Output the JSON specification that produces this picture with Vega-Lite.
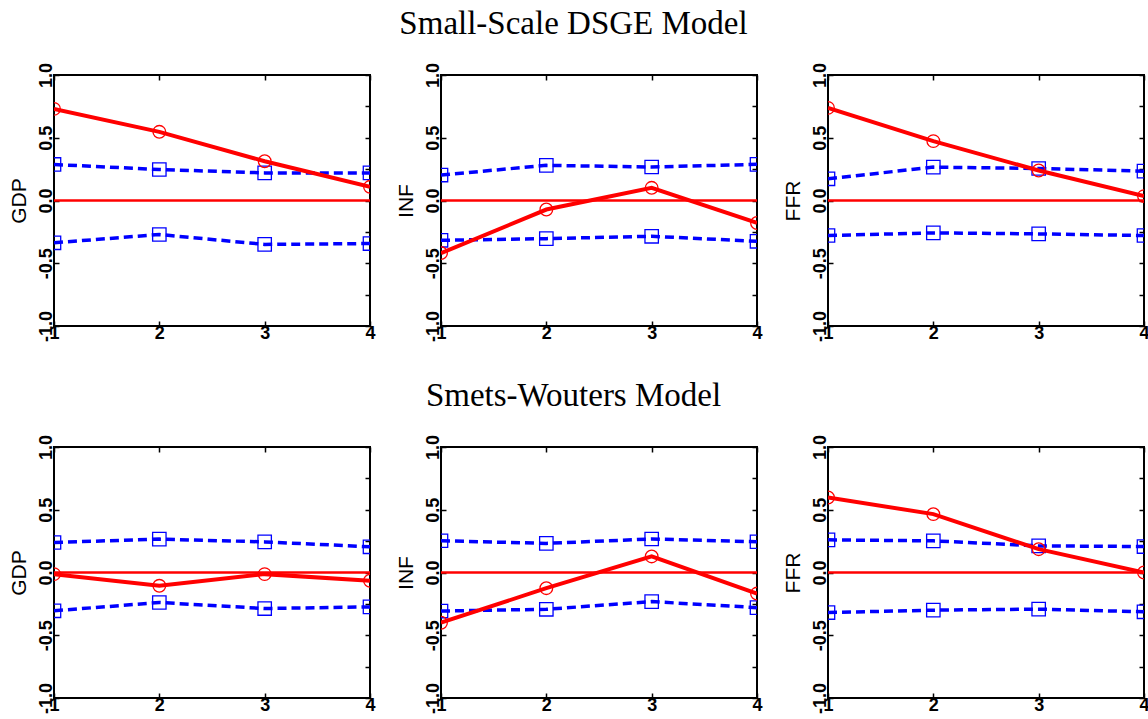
{
"$schema":"https://vega.github.io/schema/vega-lite/v6.json",
"padding":{"left":7,"top":8,"right":0,"bottom":0},
"datasets":{"d":[
{"model":"S","variable":"GDP","series":"point","horizon":1,"value":0.73},
{"model":"S","variable":"GDP","series":"point","horizon":2,"value":0.547},
{"model":"S","variable":"GDP","series":"point","horizon":3,"value":0.313},
{"model":"S","variable":"GDP","series":"point","horizon":4,"value":0.109},
{"model":"S","variable":"GDP","series":"upper","horizon":1,"value":0.287},
{"model":"S","variable":"GDP","series":"upper","horizon":2,"value":0.247},
{"model":"S","variable":"GDP","series":"upper","horizon":3,"value":0.22},
{"model":"S","variable":"GDP","series":"upper","horizon":4,"value":0.22},
{"model":"S","variable":"GDP","series":"lower","horizon":1,"value":-0.337},
{"model":"S","variable":"GDP","series":"lower","horizon":2,"value":-0.271},
{"model":"S","variable":"GDP","series":"lower","horizon":3,"value":-0.35},
{"model":"S","variable":"GDP","series":"lower","horizon":4,"value":-0.343},
{"model":"S","variable":"INF","series":"point","horizon":1,"value":-0.419},
{"model":"S","variable":"INF","series":"point","horizon":2,"value":-0.072},
{"model":"S","variable":"INF","series":"point","horizon":3,"value":0.101},
{"model":"S","variable":"INF","series":"point","horizon":4,"value":-0.179},
{"model":"S","variable":"INF","series":"upper","horizon":1,"value":0.203},
{"model":"S","variable":"INF","series":"upper","horizon":2,"value":0.28},
{"model":"S","variable":"INF","series":"upper","horizon":3,"value":0.267},
{"model":"S","variable":"INF","series":"upper","horizon":4,"value":0.288},
{"model":"S","variable":"INF","series":"lower","horizon":1,"value":-0.317},
{"model":"S","variable":"INF","series":"lower","horizon":2,"value":-0.304},
{"model":"S","variable":"INF","series":"lower","horizon":3,"value":-0.285},
{"model":"S","variable":"INF","series":"lower","horizon":4,"value":-0.325},
{"model":"S","variable":"FFR","series":"point","horizon":1,"value":0.738},
{"model":"S","variable":"FFR","series":"point","horizon":2,"value":0.473},
{"model":"S","variable":"FFR","series":"point","horizon":3,"value":0.239},
{"model":"S","variable":"FFR","series":"point","horizon":4,"value":0.035},
{"model":"S","variable":"FFR","series":"upper","horizon":1,"value":0.173},
{"model":"S","variable":"FFR","series":"upper","horizon":2,"value":0.266},
{"model":"S","variable":"FFR","series":"upper","horizon":3,"value":0.255},
{"model":"S","variable":"FFR","series":"upper","horizon":4,"value":0.234},
{"model":"S","variable":"FFR","series":"lower","horizon":1,"value":-0.279},
{"model":"S","variable":"FFR","series":"lower","horizon":2,"value":-0.258},
{"model":"S","variable":"FFR","series":"lower","horizon":3,"value":-0.266},
{"model":"S","variable":"FFR","series":"lower","horizon":4,"value":-0.279},
{"model":"W","variable":"GDP","series":"point","horizon":1,"value":-0.013},
{"model":"W","variable":"GDP","series":"point","horizon":2,"value":-0.106},
{"model":"W","variable":"GDP","series":"point","horizon":3,"value":-0.013},
{"model":"W","variable":"GDP","series":"point","horizon":4,"value":-0.066},
{"model":"W","variable":"GDP","series":"upper","horizon":1,"value":0.239},
{"model":"W","variable":"GDP","series":"upper","horizon":2,"value":0.266},
{"model":"W","variable":"GDP","series":"upper","horizon":3,"value":0.244},
{"model":"W","variable":"GDP","series":"upper","horizon":4,"value":0.205},
{"model":"W","variable":"GDP","series":"lower","horizon":1,"value":-0.305},
{"model":"W","variable":"GDP","series":"lower","horizon":2,"value":-0.239},
{"model":"W","variable":"GDP","series":"lower","horizon":3,"value":-0.287},
{"model":"W","variable":"GDP","series":"lower","horizon":4,"value":-0.274},
{"model":"W","variable":"INF","series":"point","horizon":1,"value":-0.4},
{"model":"W","variable":"INF","series":"point","horizon":2,"value":-0.125},
{"model":"W","variable":"INF","series":"point","horizon":3,"value":0.128},
{"model":"W","variable":"INF","series":"point","horizon":4,"value":-0.168},
{"model":"W","variable":"INF","series":"upper","horizon":1,"value":0.253},
{"model":"W","variable":"INF","series":"upper","horizon":2,"value":0.232},
{"model":"W","variable":"INF","series":"upper","horizon":3,"value":0.267},
{"model":"W","variable":"INF","series":"upper","horizon":4,"value":0.245},
{"model":"W","variable":"INF","series":"lower","horizon":1,"value":-0.307},
{"model":"W","variable":"INF","series":"lower","horizon":2,"value":-0.293},
{"model":"W","variable":"INF","series":"lower","horizon":3,"value":-0.232},
{"model":"W","variable":"INF","series":"lower","horizon":4,"value":-0.28},
{"model":"W","variable":"FFR","series":"point","horizon":1,"value":0.598},
{"model":"W","variable":"FFR","series":"point","horizon":2,"value":0.465},
{"model":"W","variable":"FFR","series":"point","horizon":3,"value":0.186},
{"model":"W","variable":"FFR","series":"point","horizon":4,"value":0.0},
{"model":"W","variable":"FFR","series":"upper","horizon":1,"value":0.26},
{"model":"W","variable":"FFR","series":"upper","horizon":2,"value":0.252},
{"model":"W","variable":"FFR","series":"upper","horizon":3,"value":0.212},
{"model":"W","variable":"FFR","series":"upper","horizon":4,"value":0.207},
{"model":"W","variable":"FFR","series":"lower","horizon":1,"value":-0.319},
{"model":"W","variable":"FFR","series":"lower","horizon":2,"value":-0.3},
{"model":"W","variable":"FFR","series":"lower","horizon":3,"value":-0.292},
{"model":"W","variable":"FFR","series":"lower","horizon":4,"value":-0.313}
]},
"vconcat":[
{"title":{"text":"Small-Scale DSGE Model","font":"Liberation Serif","fontSize":33,"fontWeight":"normal","color":"#000","anchor":"middle","offset":20,"dx":-5},
 "hconcat":[
 {"width":316,"height":251,"data":{"name":"d"},"transform":[{"filter":"datum.model=='S' && datum.variable=='GDP'"}],
  "layer":[{"layer":[
   {"transform":[{"filter":"datum.series=='point' && datum.horizon==1"}],"mark":{"type":"rule","color":"#ff0000","strokeWidth":2.5},"encoding":{"y":{"datum":0,"type":"quantitative","scale":{"domain":[-1,1],"nice":false,"zero":false},"axis":{"title":"GDP","values":[-1,-0.75,-0.5,-0.25,0,0.25,0.5,0.75,1],"labelExpr":"datum.value % 0.5 == 0 ? (datum.value < 0 ? '-' : '') + format(abs(datum.value), '.1f') : ''"}}}},
   {"transform":[{"filter":"datum.series!='point'"}],"mark":{"type":"line","color":"#0000ff","strokeWidth":3.5,"strokeDash":[9,5],"clip":true},"encoding":{"x":{"field":"horizon","type":"quantitative","scale":{"domain":[1,4],"nice":false,"zero":false},"axis":{"title":null,"values":[1,2,3,4],"format":"d"}},"y":{"field":"value","type":"quantitative"},"detail":{"field":"series"}}},
   {"transform":[{"filter":"datum.series!='point'"}],"mark":{"type":"point","shape":"square","filled":false,"color":"#0000ff","size":180,"strokeWidth":1.3,"opacity":1,"clip":true},"encoding":{"x":{"field":"horizon","type":"quantitative"},"y":{"field":"value","type":"quantitative"}}},
   {"transform":[{"filter":"datum.series=='point'"}],"mark":{"type":"line","color":"#ff0000","strokeWidth":4,"clip":true},"encoding":{"x":{"field":"horizon","type":"quantitative"},"y":{"field":"value","type":"quantitative"}}},
   {"transform":[{"filter":"datum.series=='point'"}],"mark":{"type":"point","shape":"circle","filled":false,"color":"#ff0000","size":160,"strokeWidth":1.3,"opacity":1,"clip":true},"encoding":{"x":{"field":"horizon","type":"quantitative"},"y":{"field":"value","type":"quantitative"}}}
  ]},
  {"mark":{"type":"point","opacity":0},"encoding":{"x":{"field":"horizon","type":"quantitative","axis":{"orient":"top","labels":false,"title":null,"values":[1,2,3,4]}},"y":{"field":"value","type":"quantitative","axis":{"orient":"right","labels":false,"title":null,"values":[-1,-0.75,-0.5,-0.25,0,0.25,0.5,0.75,1]}}}}
  ],
  "resolve":{"axis":{"x":"independent","y":"independent"}}},
 {"width":316,"height":251,"data":{"name":"d"},"transform":[{"filter":"datum.model=='S' && datum.variable=='INF'"}],
  "layer":[{"layer":[
   {"transform":[{"filter":"datum.series=='point' && datum.horizon==1"}],"mark":{"type":"rule","color":"#ff0000","strokeWidth":2.5},"encoding":{"y":{"datum":0,"type":"quantitative","scale":{"domain":[-1,1],"nice":false,"zero":false},"axis":{"title":"INF","values":[-1,-0.75,-0.5,-0.25,0,0.25,0.5,0.75,1],"labelExpr":"datum.value % 0.5 == 0 ? (datum.value < 0 ? '-' : '') + format(abs(datum.value), '.1f') : ''"}}}},
   {"transform":[{"filter":"datum.series!='point'"}],"mark":{"type":"line","color":"#0000ff","strokeWidth":3.5,"strokeDash":[9,5],"clip":true},"encoding":{"x":{"field":"horizon","type":"quantitative","scale":{"domain":[1,4],"nice":false,"zero":false},"axis":{"title":null,"values":[1,2,3,4],"format":"d"}},"y":{"field":"value","type":"quantitative"},"detail":{"field":"series"}}},
   {"transform":[{"filter":"datum.series!='point'"}],"mark":{"type":"point","shape":"square","filled":false,"color":"#0000ff","size":180,"strokeWidth":1.3,"opacity":1,"clip":true},"encoding":{"x":{"field":"horizon","type":"quantitative"},"y":{"field":"value","type":"quantitative"}}},
   {"transform":[{"filter":"datum.series=='point'"}],"mark":{"type":"line","color":"#ff0000","strokeWidth":4,"clip":true},"encoding":{"x":{"field":"horizon","type":"quantitative"},"y":{"field":"value","type":"quantitative"}}},
   {"transform":[{"filter":"datum.series=='point'"}],"mark":{"type":"point","shape":"circle","filled":false,"color":"#ff0000","size":160,"strokeWidth":1.3,"opacity":1,"clip":true},"encoding":{"x":{"field":"horizon","type":"quantitative"},"y":{"field":"value","type":"quantitative"}}}
  ]},
  {"mark":{"type":"point","opacity":0},"encoding":{"x":{"field":"horizon","type":"quantitative","axis":{"orient":"top","labels":false,"title":null,"values":[1,2,3,4]}},"y":{"field":"value","type":"quantitative","axis":{"orient":"right","labels":false,"title":null,"values":[-1,-0.75,-0.5,-0.25,0,0.25,0.5,0.75,1]}}}}
  ],
  "resolve":{"axis":{"x":"independent","y":"independent"}}},
 {"width":316,"height":251,"data":{"name":"d"},"transform":[{"filter":"datum.model=='S' && datum.variable=='FFR'"}],
  "layer":[{"layer":[
   {"transform":[{"filter":"datum.series=='point' && datum.horizon==1"}],"mark":{"type":"rule","color":"#ff0000","strokeWidth":2.5},"encoding":{"y":{"datum":0,"type":"quantitative","scale":{"domain":[-1,1],"nice":false,"zero":false},"axis":{"title":"FFR","values":[-1,-0.75,-0.5,-0.25,0,0.25,0.5,0.75,1],"labelExpr":"datum.value % 0.5 == 0 ? (datum.value < 0 ? '-' : '') + format(abs(datum.value), '.1f') : ''"}}}},
   {"transform":[{"filter":"datum.series!='point'"}],"mark":{"type":"line","color":"#0000ff","strokeWidth":3.5,"strokeDash":[9,5],"clip":true},"encoding":{"x":{"field":"horizon","type":"quantitative","scale":{"domain":[1,4],"nice":false,"zero":false},"axis":{"title":null,"values":[1,2,3,4],"format":"d"}},"y":{"field":"value","type":"quantitative"},"detail":{"field":"series"}}},
   {"transform":[{"filter":"datum.series!='point'"}],"mark":{"type":"point","shape":"square","filled":false,"color":"#0000ff","size":180,"strokeWidth":1.3,"opacity":1,"clip":true},"encoding":{"x":{"field":"horizon","type":"quantitative"},"y":{"field":"value","type":"quantitative"}}},
   {"transform":[{"filter":"datum.series=='point'"}],"mark":{"type":"line","color":"#ff0000","strokeWidth":4,"clip":true},"encoding":{"x":{"field":"horizon","type":"quantitative"},"y":{"field":"value","type":"quantitative"}}},
   {"transform":[{"filter":"datum.series=='point'"}],"mark":{"type":"point","shape":"circle","filled":false,"color":"#ff0000","size":160,"strokeWidth":1.3,"opacity":1,"clip":true},"encoding":{"x":{"field":"horizon","type":"quantitative"},"y":{"field":"value","type":"quantitative"}}}
  ]},
  {"mark":{"type":"point","opacity":0},"encoding":{"x":{"field":"horizon","type":"quantitative","axis":{"orient":"top","labels":false,"title":null,"values":[1,2,3,4]}},"y":{"field":"value","type":"quantitative","axis":{"orient":"right","labels":false,"title":null,"values":[-1,-0.75,-0.5,-0.25,0,0.25,0.5,0.75,1]}}}}
  ],
  "resolve":{"axis":{"x":"independent","y":"independent"}}}
 ],"spacing":17},
{"title":{"text":"Smets-Wouters Model","font":"Liberation Serif","fontSize":33,"fontWeight":"normal","color":"#000","anchor":"middle","offset":20,"dx":-5},
 "hconcat":[
 {"width":316,"height":251,"data":{"name":"d"},"transform":[{"filter":"datum.model=='W' && datum.variable=='GDP'"}],
  "layer":[{"layer":[
   {"transform":[{"filter":"datum.series=='point' && datum.horizon==1"}],"mark":{"type":"rule","color":"#ff0000","strokeWidth":2.5},"encoding":{"y":{"datum":0,"type":"quantitative","scale":{"domain":[-1,1],"nice":false,"zero":false},"axis":{"title":"GDP","values":[-1,-0.75,-0.5,-0.25,0,0.25,0.5,0.75,1],"labelExpr":"datum.value % 0.5 == 0 ? (datum.value < 0 ? '-' : '') + format(abs(datum.value), '.1f') : ''"}}}},
   {"transform":[{"filter":"datum.series!='point'"}],"mark":{"type":"line","color":"#0000ff","strokeWidth":3.5,"strokeDash":[9,5],"clip":true},"encoding":{"x":{"field":"horizon","type":"quantitative","scale":{"domain":[1,4],"nice":false,"zero":false},"axis":{"title":null,"values":[1,2,3,4],"format":"d"}},"y":{"field":"value","type":"quantitative"},"detail":{"field":"series"}}},
   {"transform":[{"filter":"datum.series!='point'"}],"mark":{"type":"point","shape":"square","filled":false,"color":"#0000ff","size":180,"strokeWidth":1.3,"opacity":1,"clip":true},"encoding":{"x":{"field":"horizon","type":"quantitative"},"y":{"field":"value","type":"quantitative"}}},
   {"transform":[{"filter":"datum.series=='point'"}],"mark":{"type":"line","color":"#ff0000","strokeWidth":4,"clip":true},"encoding":{"x":{"field":"horizon","type":"quantitative"},"y":{"field":"value","type":"quantitative"}}},
   {"transform":[{"filter":"datum.series=='point'"}],"mark":{"type":"point","shape":"circle","filled":false,"color":"#ff0000","size":160,"strokeWidth":1.3,"opacity":1,"clip":true},"encoding":{"x":{"field":"horizon","type":"quantitative"},"y":{"field":"value","type":"quantitative"}}}
  ]},
  {"mark":{"type":"point","opacity":0},"encoding":{"x":{"field":"horizon","type":"quantitative","axis":{"orient":"top","labels":false,"title":null,"values":[1,2,3,4]}},"y":{"field":"value","type":"quantitative","axis":{"orient":"right","labels":false,"title":null,"values":[-1,-0.75,-0.5,-0.25,0,0.25,0.5,0.75,1]}}}}
  ],
  "resolve":{"axis":{"x":"independent","y":"independent"}}},
 {"width":316,"height":251,"data":{"name":"d"},"transform":[{"filter":"datum.model=='W' && datum.variable=='INF'"}],
  "layer":[{"layer":[
   {"transform":[{"filter":"datum.series=='point' && datum.horizon==1"}],"mark":{"type":"rule","color":"#ff0000","strokeWidth":2.5},"encoding":{"y":{"datum":0,"type":"quantitative","scale":{"domain":[-1,1],"nice":false,"zero":false},"axis":{"title":"INF","values":[-1,-0.75,-0.5,-0.25,0,0.25,0.5,0.75,1],"labelExpr":"datum.value % 0.5 == 0 ? (datum.value < 0 ? '-' : '') + format(abs(datum.value), '.1f') : ''"}}}},
   {"transform":[{"filter":"datum.series!='point'"}],"mark":{"type":"line","color":"#0000ff","strokeWidth":3.5,"strokeDash":[9,5],"clip":true},"encoding":{"x":{"field":"horizon","type":"quantitative","scale":{"domain":[1,4],"nice":false,"zero":false},"axis":{"title":null,"values":[1,2,3,4],"format":"d"}},"y":{"field":"value","type":"quantitative"},"detail":{"field":"series"}}},
   {"transform":[{"filter":"datum.series!='point'"}],"mark":{"type":"point","shape":"square","filled":false,"color":"#0000ff","size":180,"strokeWidth":1.3,"opacity":1,"clip":true},"encoding":{"x":{"field":"horizon","type":"quantitative"},"y":{"field":"value","type":"quantitative"}}},
   {"transform":[{"filter":"datum.series=='point'"}],"mark":{"type":"line","color":"#ff0000","strokeWidth":4,"clip":true},"encoding":{"x":{"field":"horizon","type":"quantitative"},"y":{"field":"value","type":"quantitative"}}},
   {"transform":[{"filter":"datum.series=='point'"}],"mark":{"type":"point","shape":"circle","filled":false,"color":"#ff0000","size":160,"strokeWidth":1.3,"opacity":1,"clip":true},"encoding":{"x":{"field":"horizon","type":"quantitative"},"y":{"field":"value","type":"quantitative"}}}
  ]},
  {"mark":{"type":"point","opacity":0},"encoding":{"x":{"field":"horizon","type":"quantitative","axis":{"orient":"top","labels":false,"title":null,"values":[1,2,3,4]}},"y":{"field":"value","type":"quantitative","axis":{"orient":"right","labels":false,"title":null,"values":[-1,-0.75,-0.5,-0.25,0,0.25,0.5,0.75,1]}}}}
  ],
  "resolve":{"axis":{"x":"independent","y":"independent"}}},
 {"width":316,"height":251,"data":{"name":"d"},"transform":[{"filter":"datum.model=='W' && datum.variable=='FFR'"}],
  "layer":[{"layer":[
   {"transform":[{"filter":"datum.series=='point' && datum.horizon==1"}],"mark":{"type":"rule","color":"#ff0000","strokeWidth":2.5},"encoding":{"y":{"datum":0,"type":"quantitative","scale":{"domain":[-1,1],"nice":false,"zero":false},"axis":{"title":"FFR","values":[-1,-0.75,-0.5,-0.25,0,0.25,0.5,0.75,1],"labelExpr":"datum.value % 0.5 == 0 ? (datum.value < 0 ? '-' : '') + format(abs(datum.value), '.1f') : ''"}}}},
   {"transform":[{"filter":"datum.series!='point'"}],"mark":{"type":"line","color":"#0000ff","strokeWidth":3.5,"strokeDash":[9,5],"clip":true},"encoding":{"x":{"field":"horizon","type":"quantitative","scale":{"domain":[1,4],"nice":false,"zero":false},"axis":{"title":null,"values":[1,2,3,4],"format":"d"}},"y":{"field":"value","type":"quantitative"},"detail":{"field":"series"}}},
   {"transform":[{"filter":"datum.series!='point'"}],"mark":{"type":"point","shape":"square","filled":false,"color":"#0000ff","size":180,"strokeWidth":1.3,"opacity":1,"clip":true},"encoding":{"x":{"field":"horizon","type":"quantitative"},"y":{"field":"value","type":"quantitative"}}},
   {"transform":[{"filter":"datum.series=='point'"}],"mark":{"type":"line","color":"#ff0000","strokeWidth":4,"clip":true},"encoding":{"x":{"field":"horizon","type":"quantitative"},"y":{"field":"value","type":"quantitative"}}},
   {"transform":[{"filter":"datum.series=='point'"}],"mark":{"type":"point","shape":"circle","filled":false,"color":"#ff0000","size":160,"strokeWidth":1.3,"opacity":1,"clip":true},"encoding":{"x":{"field":"horizon","type":"quantitative"},"y":{"field":"value","type":"quantitative"}}}
  ]},
  {"mark":{"type":"point","opacity":0},"encoding":{"x":{"field":"horizon","type":"quantitative","axis":{"orient":"top","labels":false,"title":null,"values":[1,2,3,4]}},"y":{"field":"value","type":"quantitative","axis":{"orient":"right","labels":false,"title":null,"values":[-1,-0.75,-0.5,-0.25,0,0.25,0.5,0.75,1]}}}}
  ],
  "resolve":{"axis":{"x":"independent","y":"independent"}}}
 ],"spacing":17}
],
"spacing":37,
"config":{
 "view":{"stroke":"#000","strokeWidth":2},
 "axis":{"grid":false,"domain":false,"tickColor":"#000","tickWidth":1.5,"tickSize":-5,"labelFont":"Liberation Sans","labelFontSize":18,"labelFontWeight":"bold","labelColor":"#000","titleFont":"Liberation Sans","titleFontSize":21,"titleFontWeight":"normal","titleColor":"#000","labelFlush":false,"labelOverlap":false},
 "axisLeft":{"labelAngle":-90,"labelPadding":4,"titlePadding":8},
 "axisBottom":{"labelAngle":0,"labelPadding":3}
}
}
